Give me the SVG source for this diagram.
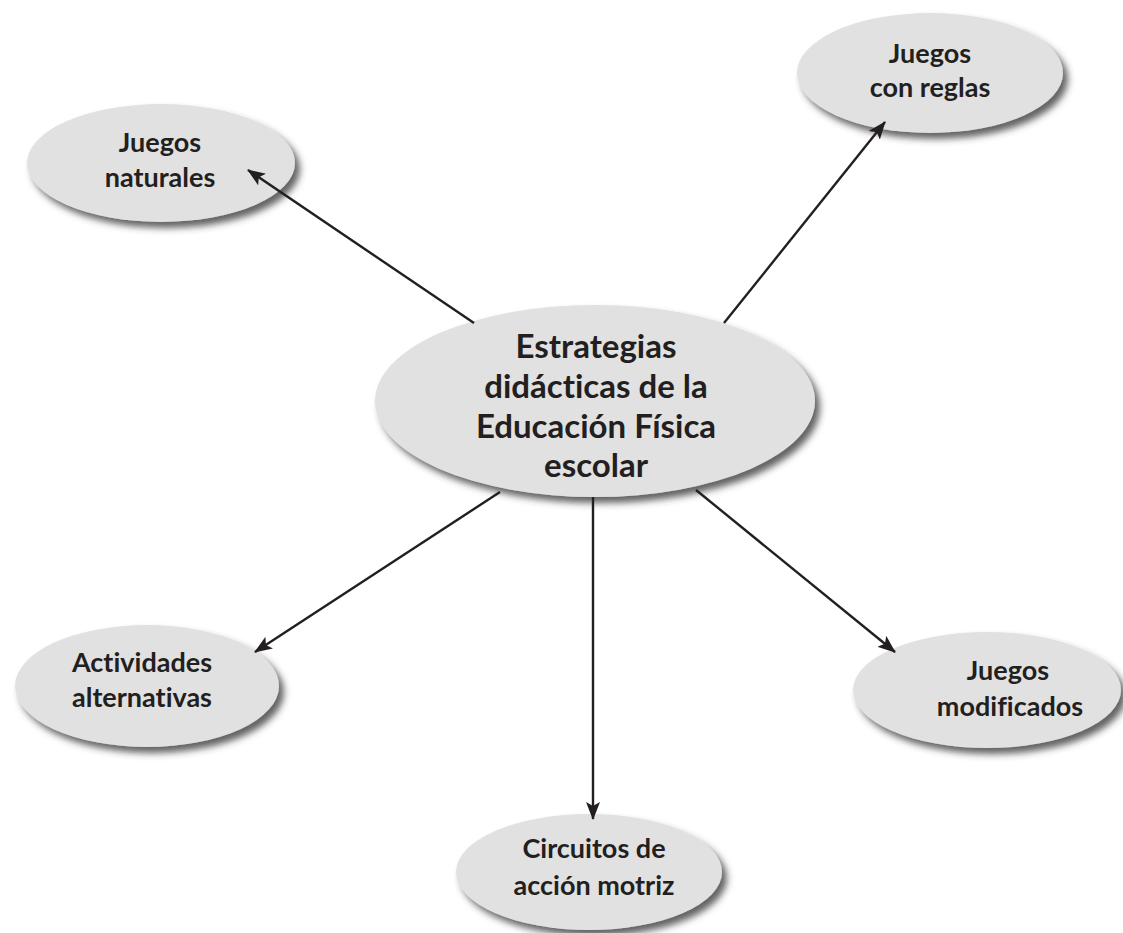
<svg xmlns="http://www.w3.org/2000/svg" width="1123" height="933" viewBox="0 0 1123 933">
<style>
.node ellipse{fill:#e1e1e1;filter:url(#sh)}
.node text{font-family:Lato,"Open Sans","Liberation Sans",sans-serif;font-weight:bold;fill:#231f20;text-anchor:middle;font-size:27px;font-variant-ligatures:none;font-feature-settings:"liga" 0}
.node.main text{font-size:33px}
.conn line{stroke:#231f20;stroke-width:2.4;marker-end:url(#ah)}
</style>
<defs>
<filter id="sh" x="-20%" y="-30%" width="140%" height="160%">
<feDropShadow dx="5" dy="6" stdDeviation="3.5" flood-color="#3a3a3a" flood-opacity="0.8"/>
</filter>
<marker id="ah" viewBox="0 0 18 14" refX="17" refY="7" markerWidth="18" markerHeight="14" markerUnits="userSpaceOnUse" orient="auto">
<path d="M0,0 L18,7 L0,14 L4,7 z" fill="#231f20"/>
</marker>
</defs>
<rect width="1123" height="933" fill="#fff"/>
<g id="n-naturales" class="node">
<ellipse cx="161" cy="163" rx="134" ry="59"/>
<text x="160" y="152">Juegos</text>
<text x="160" y="187">naturales</text>
</g>
<g id="n-reglas" class="node">
<ellipse cx="930" cy="73" rx="133" ry="60"/>
<text x="930" y="63">Juegos</text>
<text x="930" y="97">con reglas</text>
</g>
<g id="n-main" class="node main">
<ellipse cx="595" cy="401" rx="220" ry="96"/>
<text x="596" y="358">Estrategias</text>
<text x="596" y="398">didácticas de la</text>
<text x="596" y="438">Educación Física</text>
<text x="596" y="477">escolar</text>
</g>
<g id="n-actividades" class="node">
<ellipse cx="147" cy="686" rx="132" ry="61"/>
<text x="142" y="672">Actividades</text>
<text x="142" y="707">alternativas</text>
</g>
<g id="n-modificados" class="node">
<ellipse cx="987" cy="690" rx="134" ry="58"/>
<text x="1008" y="680">Juegos</text>
<text x="1010" y="716">modificados</text>
</g>
<g id="n-circuitos" class="node">
<ellipse cx="589" cy="872" rx="133" ry="58"/>
<text x="594" y="858">Circuitos de</text>
<text x="594" y="895">acción motriz</text>
</g>
<g class="conn">
<line x1="474" y1="323" x2="248" y2="170"/>
<line x1="724" y1="323" x2="885" y2="122"/>
<line x1="500" y1="492" x2="255" y2="652"/>
<line x1="593" y1="497" x2="593" y2="819"/>
<line x1="696" y1="490" x2="895" y2="652"/>
</g>
</svg>
